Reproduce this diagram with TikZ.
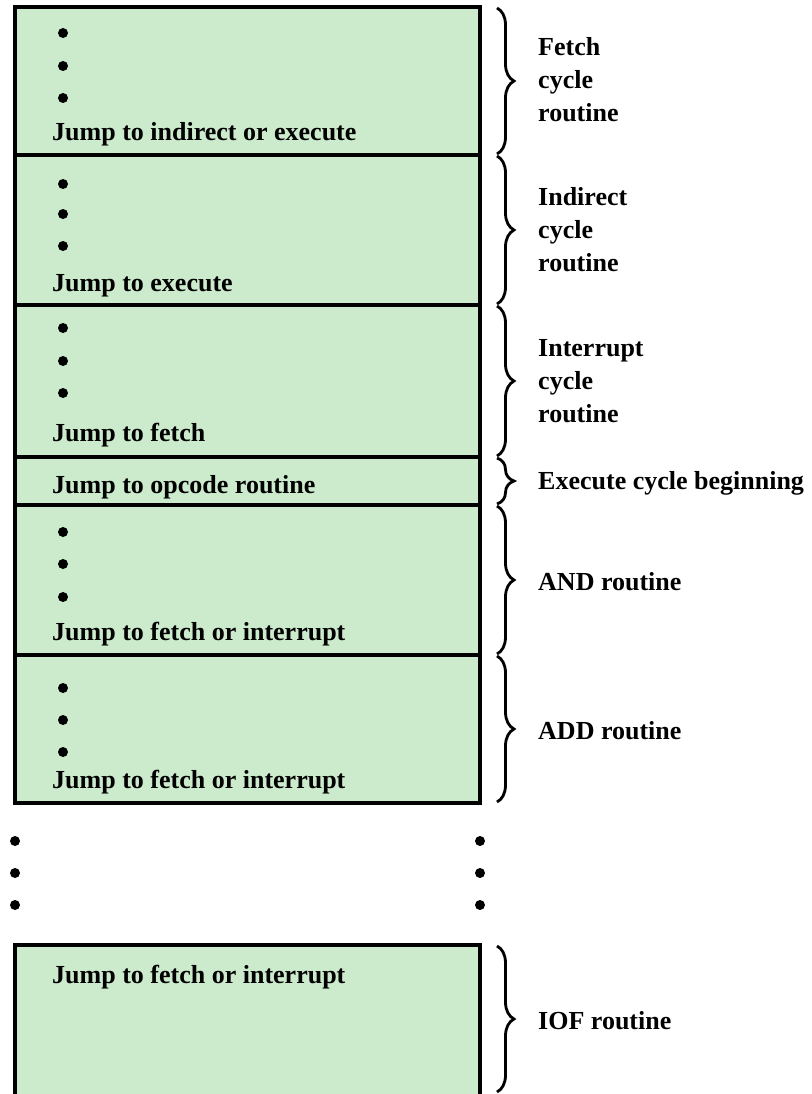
\documentclass[tikz,border=0pt]{standalone}
\usepackage{fontspec}
\setmainfont{Liberation Serif}
\usetikzlibrary{decorations.pathreplacing}
\definecolor{memfill}{RGB}{204,235,204}
\begin{document}
\begin{tikzpicture}[x=1pt,y=-1pt,
  block/.style={draw=black,line width=3.4pt,fill=memfill},
  entry/.style={anchor=base west,inner sep=0pt,font=\fontsize{26}{33}\selectfont\bfseries},
  label/.style={anchor=west,inner sep=0pt,align=left,font=\fontsize{26}{33}\selectfont\bfseries},
  bullet/.style={circle,fill=black,inner sep=0pt,minimum size=10pt},
  routine/.style={decorate,decoration={brace,amplitude=17pt},line width=2.8pt}]
\useasboundingbox (0,0) rectangle (811,1094);

% control memory blocks
\draw[block] (15,7) rectangle (480,155);
\draw[block] (15,155) rectangle (480,305);
\draw[block] (15,305) rectangle (480,457);
\draw[block] (15,457) rectangle (480,505);
\draw[block] (15,505) rectangle (480,655);
\draw[block] (15,655) rectangle (480,803);
\draw[block] (15,945) rectangle (480,1110);

% ellipsis dots inside the blocks
\foreach \y in {33,66,98, 184,214,246, 328,361,393, 532,564,597, 688,720,752}
  \node[bullet] at (63,\y) {};

% dots between the blocks
\foreach \y/\k in {841/1,873/2,905/3}{
  \node[bullet] (gl\k) at (15,\y) {};
  \node[bullet] (gr\k) at (480,\y) {};
}

% microinstruction texts
\node[entry] (t1) at (52,141) {Jump to indirect or execute};
\node[entry] (t2) at (52,291) {Jump to execute};
\node[entry] (t3) at (52,441) {Jump to fetch};
\node[entry] (t4) at (52,493) {Jump to opcode routine};
\node[entry] (t5) at (52,640) {Jump to fetch or interrupt};
\node[entry] (t6) at (52,788) {Jump to fetch or interrupt};
\node[entry] (t7) at (52,983) {Jump to fetch or interrupt};

% braces grouping the routines
\coordinate (b1s) at (497,8);   \coordinate (b1e) at (497,154);
\coordinate (b2s) at (497,156); \coordinate (b2e) at (497,304);
\coordinate (b3s) at (497,306); \coordinate (b3e) at (497,456);
\coordinate (b4s) at (497,458); \coordinate (b4e) at (497,504);
\coordinate (b5s) at (497,506); \coordinate (b5e) at (497,654);
\coordinate (b6s) at (497,656); \coordinate (b6e) at (497,802);
\coordinate (b7s) at (497,946); \coordinate (b7e) at (497,1092);
\foreach \k in {1,...,7}
  \draw[routine] (b\k s) -- (b\k e);

% routine names
\node[label] (l1) at (538,80)  {Fetch\\cycle\\routine};
\node[label] (l2) at (538,230) {Indirect\\cycle\\routine};
\node[label] (l3) at (538,381) {Interrupt\\cycle\\routine};
\node[label] (l4) at (538,483) {Execute cycle beginning};
\node[label] (l5) at (538,582) {AND routine};
\node[label] (l6) at (538,731) {ADD routine};
\node[label] (l7) at (538,1021) {IOF routine};
\end{tikzpicture}
\end{document}
